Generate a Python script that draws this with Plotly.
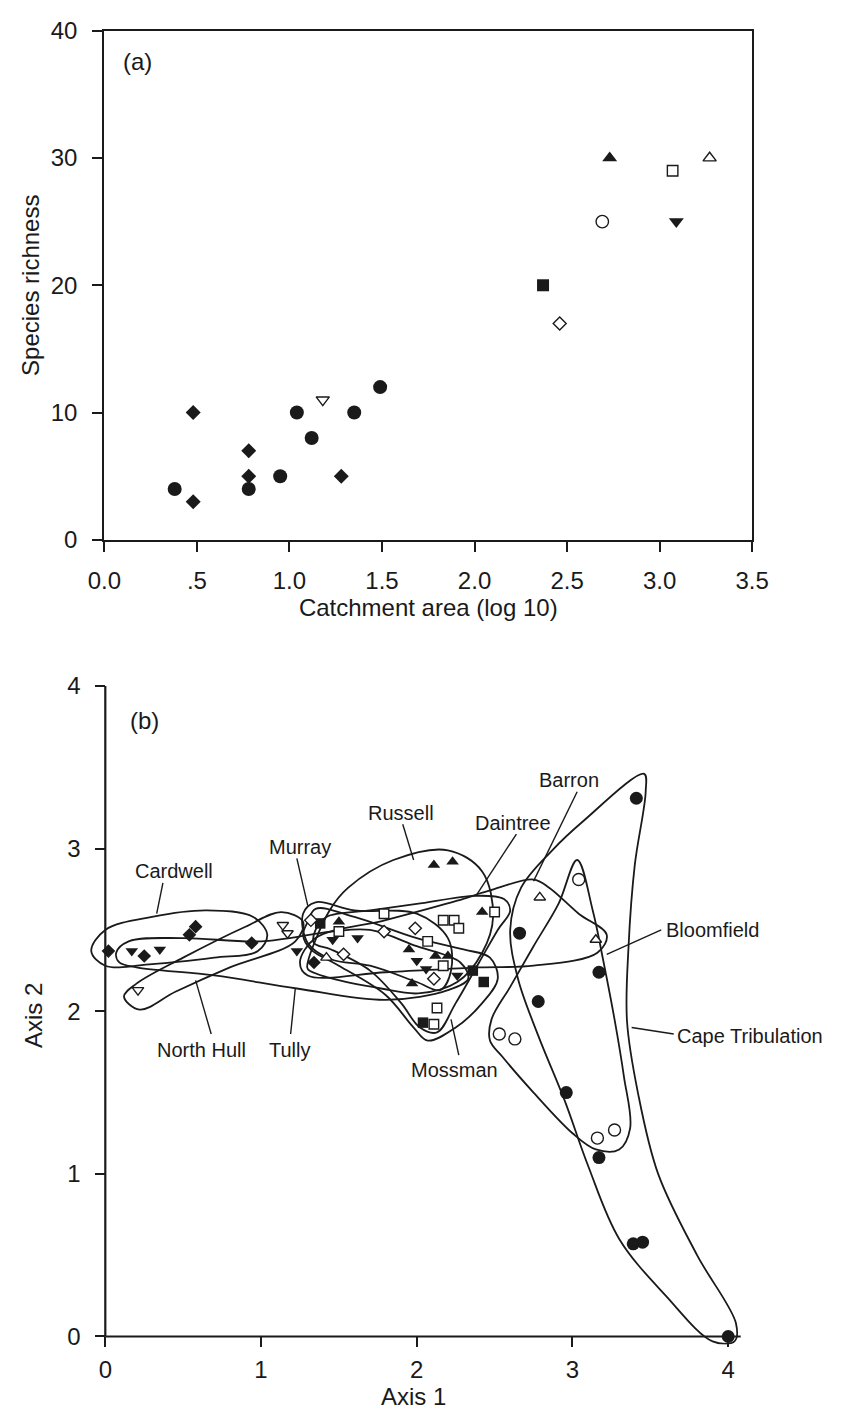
import plotly.graph_objects as go

# ---------------- Panel (a) data ----------------
rivers = ["Cape Tribulation", "Cardwell", "North Hull", "Russell", "Daintree",
          "Barron", "Bloomfield", "Tully", "Mossman", "Murray"]
symbols = ["circle", "diamond", "triangle-down", "triangle-up", "square",
           "triangle-up", "circle", "triangle-down", "square", "diamond"]
hollow = [False, False, True, False, True, True, True, False, False, True]

catchment = [
    [0.38, 0.78, 0.95, 1.04, 1.12, 1.35, 1.49],
    [0.48, 0.48, 0.78, 0.78, 1.28],
    [1.18],
    [2.73],
    [3.07],
    [3.27],
    [2.69],
    [3.09],
    [2.37],
    [2.46],
]
richness = [
    [4, 4, 5, 10, 8, 10, 12],
    [10, 3, 7, 5, 5],
    [11],
    [30],
    [29],
    [30],
    [25],
    [25],
    [20],
    [17],
]

# ---------------- Panel (b) data ----------------
axis1 = [
    [2.66, 2.78, 2.96, 3.17, 3.17, 3.41, 3.39, 3.45, 4.00],
    [0.02, 0.25, 0.54, 0.58, 0.94, 1.34],
    [0.21, 1.14, 1.17],
    [1.50, 1.95, 1.97, 2.11, 2.23, 2.12, 2.20, 2.42],
    [1.50, 1.79, 2.07, 2.17, 2.24, 2.27, 2.17, 2.50, 2.13, 2.11],
    [1.42, 2.79, 3.15],
    [2.53, 2.63, 3.04, 3.16, 3.27],
    [0.17, 0.35, 1.23, 1.46, 1.62, 2.00, 2.06, 2.26],
    [1.38, 2.04, 2.36, 2.43],
    [1.32, 1.53, 1.79, 1.99, 2.11],
]
axis2 = [
    [2.48, 2.06, 1.50, 2.24, 1.10, 3.31, 0.57, 0.58, 0.00],
    [2.37, 2.34, 2.47, 2.52, 2.42, 2.30],
    [2.13, 2.53, 2.48],
    [2.55, 2.38, 2.17, 2.90, 2.92, 2.34, 2.34, 2.61],
    [2.49, 2.60, 2.43, 2.56, 2.56, 2.51, 2.28, 2.61, 2.02, 1.92],
    [2.33, 2.70, 2.44],
    [1.86, 1.83, 2.81, 1.22, 1.27],
    [2.37, 2.38, 2.37, 2.44, 2.45, 2.31, 2.26, 2.22],
    [2.54, 1.93, 2.25, 2.18],
    [2.56, 2.35, 2.49, 2.51, 2.20],
]

# group outlines (hand-drawn envelopes), vertices in axis units
hull_x = {
    "Cardwell": [-0.09, 0.00, 0.30, 0.65, 0.95, 1.04, 0.98, 0.70, 0.30, 0.00],
    "Tully": [0.07, 0.15, 0.50, 1.00, 1.45, 1.70, 2.00, 2.28, 2.33, 2.20, 1.80, 1.23, 0.70, 0.20, 0.09],
    "North Hull": [0.12, 0.20, 0.50, 0.90, 1.13, 1.27, 1.22, 0.80, 0.45, 0.22],
    "Murray": [1.27, 1.35, 1.60, 2.00, 2.20, 2.22, 2.15, 2.00, 1.70, 1.45, 1.30],
    "Russell": [1.30, 1.44, 1.56, 1.85, 2.20, 2.42, 2.49, 2.42, 2.26, 2.01, 1.77, 1.46, 1.30],
    "Daintree": [1.35, 1.42, 1.70, 2.00, 2.38, 2.56, 2.60, 2.52, 2.40, 2.25, 2.13, 2.02, 1.90, 1.70, 1.45, 1.34],
    "Mossman": [1.30, 1.35, 1.60, 2.00, 2.30, 2.47, 2.52, 2.42, 2.25, 2.07, 1.98, 1.80, 1.50, 1.32, 1.27],
    "Barron": [1.25, 1.35, 1.80, 2.26, 2.46, 2.75, 2.85, 3.04, 3.22, 3.16, 2.75, 2.40, 1.80, 1.30],
    "Bloomfield": [3.03, 2.91, 2.75, 2.60, 2.48, 2.47, 2.55, 2.75, 3.00, 3.15, 3.30, 3.37, 3.33, 3.27, 3.20, 3.13],
    "Cape Tribulation": [3.46, 3.07, 2.87, 2.67, 2.60, 2.65, 2.78, 2.95, 3.10, 3.30, 3.60, 3.90, 4.04, 4.05,
                         3.80, 3.55, 3.42, 3.35, 3.36, 3.40, 3.47],
}
hull_y = {
    "Cardwell": [2.37, 2.50, 2.58, 2.62, 2.58, 2.47, 2.37, 2.33, 2.29, 2.28],
    "Tully": [2.36, 2.43, 2.45, 2.43, 2.49, 2.50, 2.40, 2.30, 2.20, 2.13, 2.07, 2.14, 2.22, 2.27, 2.30],
    "North Hull": [2.09, 2.17, 2.33, 2.52, 2.61, 2.55, 2.43, 2.27, 2.12, 2.01],
    "Murray": [2.60, 2.67, 2.62, 2.60, 2.45, 2.25, 2.13, 2.18, 2.28, 2.32, 2.42],
    "Russell": [2.30, 2.62, 2.76, 2.93, 2.99, 2.86, 2.58, 2.36, 2.18, 2.11, 2.14, 2.20, 2.26],
    "Daintree": [2.50, 2.58, 2.62, 2.66, 2.71, 2.69, 2.62, 2.50, 2.30, 2.05, 1.87, 1.90, 2.05, 2.25, 2.38, 2.42],
    "Mossman": [2.55, 2.63, 2.58, 2.45, 2.38, 2.33, 2.20, 2.05, 1.90, 1.82, 1.90, 2.10, 2.28, 2.38, 2.47],
    "Barron": [2.30, 2.45, 2.56, 2.68, 2.74, 2.81, 2.76, 2.60, 2.47, 2.36, 2.28, 2.27, 2.24, 2.22],
    "Bloomfield": [2.93, 2.66, 2.40, 2.15, 1.95, 1.82, 1.72, 1.50, 1.25, 1.15, 1.15, 1.28, 1.60, 1.95, 2.30, 2.62],
    "Cape Tribulation": [3.46, 3.17, 2.99, 2.76, 2.50, 2.20, 1.85, 1.45, 1.05, 0.60, 0.25, -0.03, -0.03, 0.08,
                         0.50, 1.00, 1.50, 1.94, 2.40, 2.90, 3.35],
}

label_names = ["Cardwell", "North Hull", "Tully", "Murray", "Russell", "Daintree",
               "Barron", "Mossman", "Bloomfield", "Cape Tribulation"]
label_x = [0.44, 0.62, 1.18, 1.25, 1.90, 2.62, 2.98, 2.24, 3.59, 3.66]
label_y = [2.86, 1.76, 1.76, 3.01, 3.22, 3.16, 3.42, 1.64, 2.50, 1.85]
label_anchor = ["center"] * 8 + ["left", "left"]
leader_x = [[0.37, 0.33], [0.68, 0.58], [1.19, 1.22], [1.23, 1.30], [1.91, 1.98],
            [2.64, 2.38], [3.03, 2.75], [2.27, 2.22], [3.57, 3.22], [3.65, 3.38]]
leader_y = [[2.79, 2.60], [1.86, 2.19], [1.86, 2.14], [2.94, 2.65], [3.15, 2.93],
            [3.09, 2.71], [3.35, 2.80], [1.73, 1.95], [2.50, 2.35], [1.86, 1.90]]

W, H = 846, 1426
INK = "#1a1a1a"
FONT = "Liberation Sans, Arial, sans-serif"

size_a = {"circle": 14, "diamond": 11.5, "triangle-up": 13, "triangle-down": 13, "square": 12}
size_b = {"circle": 13, "diamond": 10.5, "triangle-up": 11, "triangle-down": 11, "square": 10.5}

fig = go.Figure()

# panel (a) markers
for name, sym, hol, xs, ys in zip(rivers, symbols, hollow, catchment, richness):
    fig.add_trace(go.Scatter(
        x=xs, y=ys, mode="markers", name=name, xaxis="x", yaxis="y", cliponaxis=False,
        marker=dict(symbol=sym, size=size_a[sym] - (1.5 if hol else 0),
                    color=("white" if hol else INK),
                    line=dict(color=INK, width=1.4 if hol else 0)),
        showlegend=False))

# panel (b) hulls
for name in hull_x:
    xs = hull_x[name] + hull_x[name][:1]
    ys = hull_y[name] + hull_y[name][:1]
    fig.add_trace(go.Scatter(
        x=xs, y=ys, mode="lines", xaxis="x2", yaxis="y2",
        line=dict(color=INK, width=1.8, shape="spline", smoothing=1.0),
        hoverinfo="skip", showlegend=False))

# leader lines
for lx, ly in zip(leader_x, leader_y):
    fig.add_trace(go.Scatter(
        x=lx, y=ly, mode="lines", xaxis="x2", yaxis="y2",
        line=dict(color=INK, width=1.4), hoverinfo="skip", showlegend=False))

# panel (b) markers
for name, sym, hol, xs, ys in zip(rivers, symbols, hollow, axis1, axis2):
    fig.add_trace(go.Scatter(
        x=xs, y=ys, mode="markers", name=name, xaxis="x2", yaxis="y2", cliponaxis=False,
        marker=dict(symbol=sym, size=size_b[sym] - (1 if hol else 0),
                    color=("white" if hol else INK),
                    line=dict(color=INK, width=1.4 if hol else 0)),
        showlegend=False))

annotations = []
for t, x, y, a in zip(label_names, label_x, label_y, label_anchor):
    annotations.append(dict(x=x, y=y, xref="x2", yref="y2", text=t, showarrow=False,
                            xanchor=a, yanchor="middle",
                            font=dict(family=FONT, size=20, color=INK)))
annotations.append(dict(x=0.18, y=37.6, xref="x", yref="y", text="(a)", showarrow=False,
                        xanchor="center", yanchor="middle", font=dict(family=FONT, size=24, color=INK)))
annotations.append(dict(x=0.25, y=3.79, xref="x2", yref="y2", text="(b)", showarrow=False,
                        xanchor="center", yanchor="middle", font=dict(family=FONT, size=24, color=INK)))

axis_common = dict(linecolor=INK, linewidth=2.2, ticks="outside", ticklen=10,
                   tickwidth=1.8, tickcolor=INK, showgrid=False, zeroline=False,
                   tickfont=dict(family=FONT, size=24, color=INK),
                   title_font=dict(family=FONT, size=24, color=INK))

# panel (b) geometry: x=0 at 92px, 162.25 px per unit; y=0 at 1348px, 165.75 px per unit
KX, KY = 162.25, 165.75
X0B, Y0B = 92, 1348
xb_range = [-0.12, 4.08]
yb_range = [-0.05, 4.0]

fig.update_layout(
    width=W, height=H, margin=dict(l=0, r=0, t=0, b=0),
    paper_bgcolor="white", plot_bgcolor="white",
    xaxis=dict(axis_common, showline=True, mirror=True, domain=[91 / W, 766 / W], range=[0, 3.5],
               anchor="y", tickvals=[0, 0.5, 1, 1.5, 2, 2.5, 3, 3.5],
               ticktext=["0.0", ".5", "1.0", "1.5", "2.0", "2.5", "3.0", "3.5"],
               ticklabelstandoff=8,
               title=dict(text="Catchment area (log 10)", standoff=6)),
    yaxis=dict(axis_common, showline=True, mirror=True, domain=[1 - 536 / H, 1 - 17 / H], range=[0, 40],
               anchor="x", tickvals=[0, 10, 20, 30, 40], ticklabelstandoff=10,
               title=dict(text="Species richness", standoff=4)),
    xaxis2=dict(axis_common, showline=False,
                domain=[(X0B + xb_range[0] * KX) / W, (X0B + xb_range[1] * KX) / W],
                range=xb_range, anchor="free", position=1 - Y0B / H,
                tickvals=[0, 1, 2, 3, 4], ticklabelstandoff=2,
                title=dict(text="Axis 1", standoff=2)),
    yaxis2=dict(axis_common, showline=False,
                domain=[1 - (Y0B - yb_range[0] * KY) / H, 1 - (Y0B - yb_range[1] * KY) / H],
                range=yb_range, anchor="free", position=X0B / W,
                tickvals=[0, 1, 2, 3, 4], ticklabelstandoff=10,
                title=dict(text="Axis 2", standoff=16)),
    shapes=[
        dict(type="line", xref="paper", yref="paper", x0=X0B / W, x1=X0B / W,
             y0=1 - Y0B / H, y1=1 - (Y0B - 4 * KY) / H, line=dict(color=INK, width=2.2)),
        dict(type="line", xref="paper", yref="paper", x0=X0B / W, x1=(X0B + xb_range[1] * KX) / W,
             y0=1 - Y0B / H, y1=1 - Y0B / H, line=dict(color=INK, width=2.2)),
    ],
    annotations=annotations,
)

fig.write_html("out.html")
